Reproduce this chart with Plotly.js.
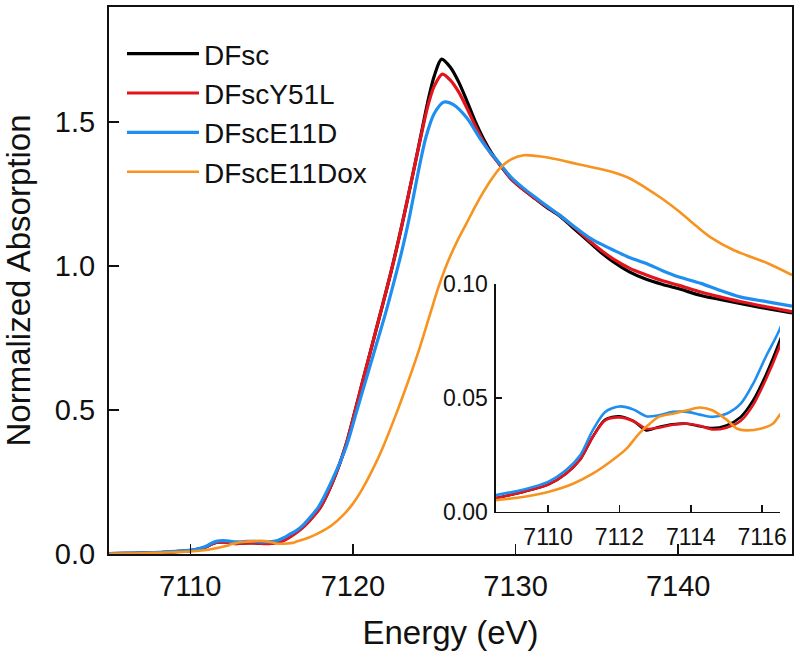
<!DOCTYPE html>
<html>
<head>
<meta charset="utf-8">
<script src="https://cdn.plot.ly/plotly-3.0.1.min.js"></script>
<style>html,body{margin:0;padding:0;background:#fff;}#chart{width:800px;height:659px;}</style>
</head>
<body>
<div id="chart"></div>
<script>
// Series names
var seriesNames = ["DFsc", "DFscY51L", "DFscE11D", "DFscE11Dox"];

// DFsc (black)
var dfscE = [7105,7106,7107,7108,7108.5,7109.3,7110,7110.5,7110.9,7111.25,7111.6,7112.0,7112.4,7112.75,7113.1,7113.5,7113.9,7114.25,7114.6,7115.0,7115.4,7115.75,7116.1,7116.5,7117.0,7117.5,7118.0,7118.8,7119.55,7120.1,7120.6,7121.2,7121.8,7122.3,7122.7,7123.1,7123.5,7123.8,7124.2,7124.6,7125.0,7125.45,7126.0,7126.5,7127.0,7127.5,7128.0,7128.5,7129.0,7129.7,7130.5,7131.2,7131.9,7132.7,7133.5,7134.5,7135.2,7136,7137,7138,7139,7140,7141.4,7142.5,7143.8,7145.5,7147];
var dfscA = [0.001,0.002,0.003,0.0045,0.006,0.0088,0.012,0.0168,0.023,0.0329,0.0405,0.042,0.0398,0.0358,0.0373,0.0385,0.0387,0.0376,0.0368,0.038,0.0417,0.049,0.06,0.0753,0.098,0.128,0.163,0.257,0.375,0.49,0.60,0.73,0.86,0.97,1.065,1.165,1.27,1.35,1.46,1.57,1.66,1.719,1.69,1.64,1.575,1.505,1.445,1.395,1.355,1.305,1.265,1.235,1.205,1.175,1.135,1.085,1.05,1.015,0.98,0.955,0.937,0.922,0.898,0.885,0.87,0.852,0.837];

// DFscY51L (red)
var y51lE = [7105,7106,7107,7108,7108.5,7109.3,7110,7110.5,7110.9,7111.25,7111.6,7112.0,7112.4,7112.75,7113.1,7113.5,7113.9,7114.25,7114.6,7115.0,7115.4,7115.75,7116.1,7116.5,7117.0,7117.5,7118.0,7118.8,7119.55,7120.1,7120.6,7121.2,7121.8,7122.3,7122.7,7123.1,7123.5,7123.8,7124.2,7124.6,7125.0,7125.5,7126.0,7126.5,7127.0,7127.5,7128.0,7128.5,7129.0,7129.7,7130.5,7131.2,7131.9,7132.7,7133.5,7134.5,7135.2,7136,7137,7138,7139,7140,7141.4,7142.5,7143.8,7145.5,7147];
var y51lA = [0.001,0.002,0.003,0.0045,0.006,0.0088,0.012,0.0168,0.023,0.0329,0.0402,0.0415,0.0398,0.0365,0.037,0.0383,0.0387,0.0378,0.0362,0.037,0.040,0.047,0.058,0.073,0.096,0.126,0.162,0.257,0.375,0.49,0.60,0.73,0.86,0.97,1.065,1.165,1.27,1.35,1.455,1.555,1.625,1.667,1.645,1.605,1.55,1.49,1.435,1.39,1.355,1.305,1.265,1.235,1.207,1.177,1.14,1.09,1.058,1.025,0.993,0.97,0.95,0.934,0.91,0.894,0.877,0.858,0.842];

// DFscE11D (blue)
var e11dE = [7105,7106,7107,7108,7108.5,7109.3,7110,7110.5,7110.9,7111.25,7111.6,7112.0,7112.4,7112.75,7113.1,7113.5,7113.9,7114.25,7114.6,7115.0,7115.4,7115.75,7116.1,7116.5,7117.0,7117.5,7117.9,7118.75,7119.6,7120.2,7120.8,7121.4,7122.0,7122.5,7123.0,7123.4,7123.7,7124.1,7124.5,7125.0,7125.6,7126.2,7127.0,7127.8,7128.4,7129.0,7129.7,7130.5,7131.2,7131.9,7132.7,7133.5,7134.5,7135.2,7136,7137,7138,7139,7140,7141.4,7142.5,7143.8,7145.5,7147];
var e11dA = [0.0015,0.0025,0.004,0.0055,0.0073,0.0098,0.0132,0.0183,0.0249,0.0358,0.0439,0.0463,0.0449,0.042,0.0424,0.0439,0.0439,0.0427,0.0417,0.0431,0.0475,0.0563,0.068,0.0804,0.104,0.136,0.165,0.26,0.375,0.49,0.605,0.72,0.835,0.94,1.05,1.15,1.235,1.35,1.45,1.53,1.57,1.56,1.515,1.445,1.398,1.358,1.31,1.27,1.24,1.21,1.177,1.142,1.10,1.078,1.056,1.03,1.01,0.985,0.963,0.94,0.917,0.893,0.876,0.861];

// DFscE11Dox (orange)
var e11doxE = [7105,7106,7107,7108,7108.5,7109.3,7110,7110.7,7111.25,7111.8,7112.2,7112.55,7112.85,7113.1,7113.5,7113.9,7114.25,7114.6,7115.0,7115.3,7115.55,7115.95,7116.3,7116.5,7117,7117.5,7118,7118.7,7119.4,7120.0,7120.6,7121.2,7121.8,7122.65,7123.4,7124.1,7124.7,7125.25,7125.8,7126.4,7127.0,7127.5,7128.0,7128.5,7129.0,7129.7,7130.5,7131.2,7131.9,7133,7134,7135,7136,7137,7138,7139,7140.1,7141.1,7142,7143.4,7144.2,7145.5,7147];
var e11doxA = [0.001,0.0015,0.0025,0.004,0.0051,0.0066,0.0088,0.0124,0.0168,0.0227,0.0278,0.0344,0.0387,0.0417,0.0431,0.0446,0.0458,0.0446,0.0405,0.0365,0.0358,0.0365,0.0387,0.0427,0.051,0.062,0.076,0.10,0.135,0.175,0.228,0.292,0.365,0.485,0.60,0.715,0.825,0.925,1.01,1.085,1.15,1.205,1.255,1.30,1.338,1.37,1.385,1.383,1.378,1.365,1.352,1.34,1.326,1.305,1.272,1.235,1.188,1.14,1.10,1.056,1.038,1.01,0.969];

var mainXTicks = [7110, 7120, 7130, 7140];
var mainYTicks = [0, 0.5, 1.0, 1.5];
var insetXTicks = [7110, 7112, 7114, 7116];
var insetYTicks = [0, 0.05, 0.10];

var colors = ["#000000", "#e3141b", "#1f8ef1", "#f7931e"];
var xs = [dfscE, y51lE, e11dE, e11doxE];
var ys = [dfscA, y51lA, e11dA, e11doxA];
var widths = [3.2, 3.2, 3.2, 2.6];

var traces = [];
for (var i = 0; i < 4; i++) {
  traces.push({
    x: xs[i], y: ys[i], name: seriesNames[i], type: "scatter", mode: "lines",
    line: {color: colors[i], width: widths[i], shape: "spline", smoothing: 0.8},
    xaxis: "x", yaxis: "y", hoverinfo: "x+y+name"
  });
}
for (var j = 0; j < 4; j++) {
  traces.push({
    x: xs[j], y: ys[j], name: seriesNames[j], type: "scatter", mode: "lines",
    line: {color: colors[j], width: 2.6, shape: "spline", smoothing: 0.8},
    xaxis: "x2", yaxis: "y2", showlegend: false, hoverinfo: "x+y+name"
  });
}

var fontFam = "Liberation Sans, Arial, Helvetica, sans-serif";
var layout = {
  width: 800, height: 659,
  margin: {l: 109, r: 8, t: 7, b: 105},
  paper_bgcolor: "#ffffff", plot_bgcolor: "rgba(0,0,0,0)",
  font: {family: fontFam, color: "#111111"},
  showlegend: true,
  legend: {x: 0.019, y: 0.96, xanchor: "left", yanchor: "top", bgcolor: "rgba(0,0,0,0)",
           font: {size: 28, family: fontFam, color: "#111"}, itemwidth: 72, tracegroupgap: 0},
  xaxis: {
    domain: [0, 1], range: [7105, 7147], tickvals: mainXTicks,
    ticks: "inside", ticklen: 10, tickwidth: 1.5, tickcolor: "#111",
    showline: true, mirror: true, linewidth: 2, linecolor: "#111",
    showgrid: false, zeroline: false, tickfont: {size: 29}, ticklabelstandoff: 5,
    title: {text: "Energy (eV)", font: {size: 33}, standoff: 20}
  },
  yaxis: {
    domain: [0, 1], range: [0, 1.9], tickvals: mainYTicks, tickformat: ".1f",
    ticks: "inside", ticklen: 10, tickwidth: 1.5, tickcolor: "#111",
    showline: true, mirror: true, linewidth: 2, linecolor: "#111",
    showgrid: false, zeroline: false, tickfont: {size: 29}, ticklabelstandoff: 6,
    title: {text: "Normalized Absorption", font: {size: 33}, standoff: 16}
  },
  xaxis2: {
    domain: [0.5666, 0.9824], anchor: "y2", range: [7108.54, 7116.5], tickvals: insetXTicks,
    ticks: "inside", ticklen: 7, tickwidth: 1.5, tickcolor: "#111",
    showline: true, linewidth: 1.5, linecolor: "#111",
    showgrid: false, zeroline: false, tickfont: {size: 23}, ticklabelstandoff: 4
  },
  yaxis2: {
    domain: [0.0768, 0.4936], anchor: "x2", range: [0, 0.1], tickvals: insetYTicks, tickformat: ".2f",
    ticks: "inside", ticklen: 6, tickwidth: 1.5, tickcolor: "#111",
    showline: true, linewidth: 1.5, linecolor: "#111",
    showgrid: false, zeroline: false, tickfont: {size: 23}, ticklabelstandoff: 2
  }
};

Plotly.newPlot("chart", traces, layout, {displayModeBar: false, staticPlot: true});
</script>
</body>
</html>
